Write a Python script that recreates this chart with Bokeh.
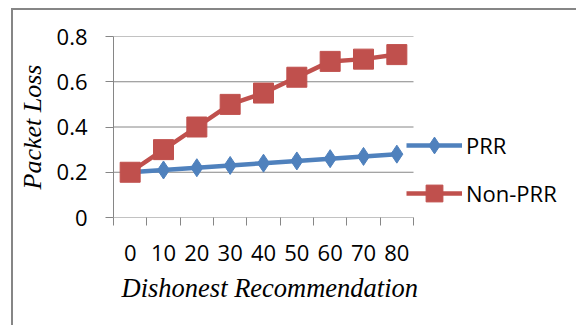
from bokeh.plotting import figure
from bokeh.models import FixedTicker, Legend, LegendItem, Title
from bokeh.embed import file_html
from bokeh.resources import INLINE

# Chart data
categories = ["0", "10", "20", "30", "40", "50", "60", "70", "80"]
prr = [0.20, 0.21, 0.22, 0.23, 0.24, 0.25, 0.26, 0.27, 0.28]
non_prr = [0.20, 0.30, 0.40, 0.50, 0.55, 0.62, 0.69, 0.70, 0.72]
y_ticks = [0, 0.2, 0.4, 0.6, 0.8]
y_tick_labels = ["0", "0.2", "0.4", "0.6", "0.8"]

GRAY = "#868686"
BLUE = "#4F81BD"
RED = "#C0504D"
TICK_FONT = "Open Sans"
TITLE_FONT = "Liberation Serif"

n = len(categories)
centers = [i + 0.5 for i in range(n)]
bounds = [float(i) for i in range(n + 1)]

# The plotting frame runs to the right edge so the legend can sit beside the
# axes; the category axis itself only occupies the first AXIS_PX pixels.
FIG_W, FIG_H = 565, 317
LEFT, TOP, BOTTOM = 100, 26, 110
AXIS_PX = 300
frame_px = FIG_W - LEFT
x_end = n * frame_px / AXIS_PX

p = figure(width=FIG_W, height=FIG_H, x_range=(0, x_end), y_range=(0, 0.8),
           output_backend="svg", toolbar_location=None,
           min_border_left=LEFT, min_border_right=0,
           min_border_top=TOP, min_border_bottom=BOTTOM,
           margin=(8, 0, 0, 11),
           styles={"border-top": "2px solid " + GRAY,
                   "border-left": "2px solid " + GRAY})
p.outline_line_color = None
p.background_fill_color = "white"
p.border_fill_color = "white"

# horizontal gridlines and the category axis line, limited to the category span
grid_y = [t for t in y_ticks if t > 0]
p.segment(x0=[0] * len(grid_y), x1=[n] * len(grid_y), y0=grid_y, y1=grid_y,
          line_color=GRAY, line_width=1)
p.segment(x0=[0], x1=[n], y0=[0], y1=[0], line_color=GRAY, line_width=1)

# x axis: labels centred in each category, tick marks on category boundaries
xa = p.xaxis[0]
xa.ticker = FixedTicker(ticks=centers, minor_ticks=bounds)
xa.major_label_overrides = {c: lab for c, lab in zip(centers, categories)}
xa.major_tick_out = 0
xa.major_tick_in = 0
xa.minor_tick_out = 8
xa.minor_tick_in = 0
xa.minor_tick_line_color = GRAY
xa.axis_line_color = None
xa.major_label_standoff = 19
xa.major_label_text_font = TICK_FONT
xa.major_label_text_font_size = "22px"
xa.major_label_text_color = "black"

ya = p.yaxis[0]
ya.ticker = FixedTicker(ticks=y_ticks)
ya.major_label_overrides = {t: lab for t, lab in zip(y_ticks, y_tick_labels)}
ya.major_tick_out = 8
ya.major_tick_in = 0
ya.minor_tick_line_color = None
ya.major_tick_line_color = GRAY
ya.axis_line_color = GRAY
ya.major_label_standoff = 18
ya.major_label_text_font = TICK_FONT
ya.major_label_text_font_size = "22px"
ya.major_label_text_color = "black"
ya.axis_label = "Packet Loss"
ya.axis_label_standoff = 7
ya.axis_label_text_font = TITLE_FONT
ya.axis_label_text_font_style = "italic"
ya.axis_label_text_font_size = "26px"
ya.axis_label_text_color = "black"

p.xgrid.visible = False
p.ygrid.visible = False

# x axis title, placed under the category span
p.add_layout(Title(text="Dishonest Recommendation", align="left", offset=8,
                   standoff=14, text_font=TITLE_FONT, text_font_style="italic",
                   text_font_size="26.5px", text_color="black"), "below")

# series
lb = p.line(centers, prr, line_color=BLUE, line_width=4.5)
sb = p.scatter(centers, prr, marker="diamond", size=18,
               fill_color=BLUE, line_color=BLUE)
lr = p.line(centers, non_prr, line_color=RED, line_width=4.5)
sr = p.scatter(centers, non_prr, marker="square", size=20,
               fill_color=RED, line_color=RED)

legend = Legend(items=[LegendItem(label="PRR", renderers=[lb, sb]),
                       LegendItem(label="Non-PRR", renderers=[lr, sr])],
                location=(AXIS_PX - 7, 3), orientation="vertical",
                glyph_width=56, glyph_height=42, label_height=42,
                label_standoff=4, padding=0, margin=0, spacing=6,
                border_line_color=None, background_fill_alpha=0)
legend.label_text_font = TICK_FONT
legend.label_text_font_size = "22px"
legend.label_text_color = "black"
p.add_layout(legend)

open("out.html", "w").write(file_html(p, INLINE))
